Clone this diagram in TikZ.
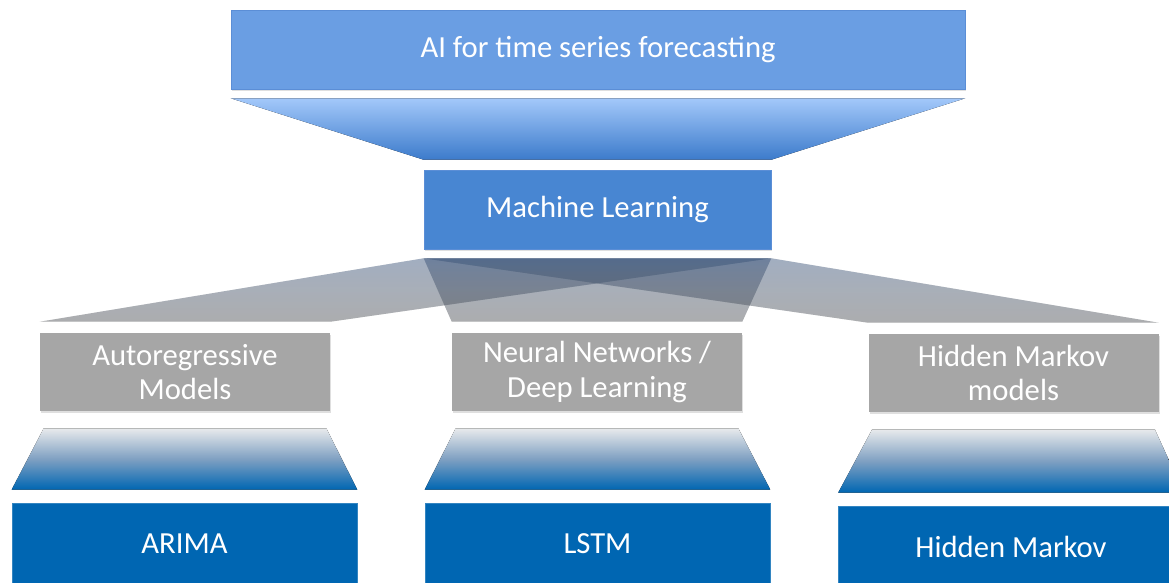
\documentclass[tikz,border=0pt]{standalone}
\usepackage{fontspec}
\setmainfont{Carlito}
\usetikzlibrary{calc,shadows}
\definecolor{topblue}{HTML}{6A9EE3}
\definecolor{topline}{HTML}{5B8ED6}
\definecolor{mlblue}{HTML}{4886D2}
\definecolor{boxgray}{HTML}{A6A6A6}
\definecolor{deepblue}{HTML}{0066B2}
\definecolor{funtop}{HTML}{A3C8FA}
\definecolor{funbot}{HTML}{3C7BCB}
\definecolor{fantop}{HTML}{5F8CD0}
\definecolor{fanmid}{HTML}{7890B2}
\definecolor{fanbot}{HTML}{84888F}
\definecolor{stemtop}{HTML}{E8EAEC}
\definecolor{stemmid}{HTML}{7FA0C2}
\tikzset{
    box/.style={rectangle, inner sep=0pt, text=white, align=center,
        font=\fontsize{23}{26}\selectfont,
        drop shadow={opacity=0.25, shadow xshift=1pt, shadow yshift=-1.5pt}},
    topbox/.style={box, fill=topblue, draw=topline, minimum width=550.5pt, minimum height=59.25pt},
    mlbox/.style={box, fill=mlblue, draw=topline, minimum width=260.25pt, minimum height=59.25pt},
    graybox/.style={box, fill=boxgray, minimum width=217.5pt, minimum height=58.5pt},
    leafbox/.style={box, fill=deepblue, draw=deepblue!80!white, minimum width=258.75pt, minimum height=61pt},
    funnel/.style={top color=funtop, bottom color=funbot},
    fan/.style={top color=fantop, bottom color=fanbot, middle color=fanmid, opacity=0.27},
    stem/.style={top color=stemtop, bottom color=deepblue, middle color=stemmid}
}
\begin{document}
\begin{tikzpicture}[x=0.75pt,y=-0.75pt]
    \useasboundingbox (0,0) rectangle (1169,582);

    \node[topbox] (ai) at (598,49.5) {AI for time series forecasting};
    \node[mlbox] (ml) at (597.5,209.5) {Machine Learning};

    \node[graybox] (ar) at (185,372) {Autoregressive\\Models};
    \node[graybox] (nn) at (597,372) {Neural Networks /\\Deep Learning};
    \node[graybox] (hm) at (1013.5,373) {Hidden Markov\\models};

    \node[leafbox] (arima) at (184.5,543.5) {ARIMA};
    \node[leafbox] (lstm) at (597.5,543.5) {LSTM};
    \node[leafbox] (hmm) at (1011,546.5) {Hidden Markov};

    % funnel below the top box
    \fill[funnel] ($(ai.south west)+(0,9)$) -- ($(ai.south east)+(0,9)$)
        -- ($(ml.north east)+(0,-10)$) -- ($(ml.north west)+(0,-10)$) -- cycle;

    % fans from machine learning to the families
    \foreach \c in {ar,nn,hm}
        \fill[fan] ($(ml.south west)+(0,9)$) -- ($(ml.south east)+(0,9)$)
            -- ($(\c.north east)+(0,-11)$) -- ($(\c.north west)+(0,-11)$) -- cycle;

    % stems down to the methods
    \foreach \c/\l in {ar/arima,nn/lstm,hm/hmm}
        \fill[stem] ($(\c.south west)+(4,17)$) -- ($(\c.south east)+(-4,17)$)
            -- ($(\l.north east)+(0,-13)$) -- ($(\l.north west)+(0,-13)$) -- cycle;
\end{tikzpicture}
\end{document}
